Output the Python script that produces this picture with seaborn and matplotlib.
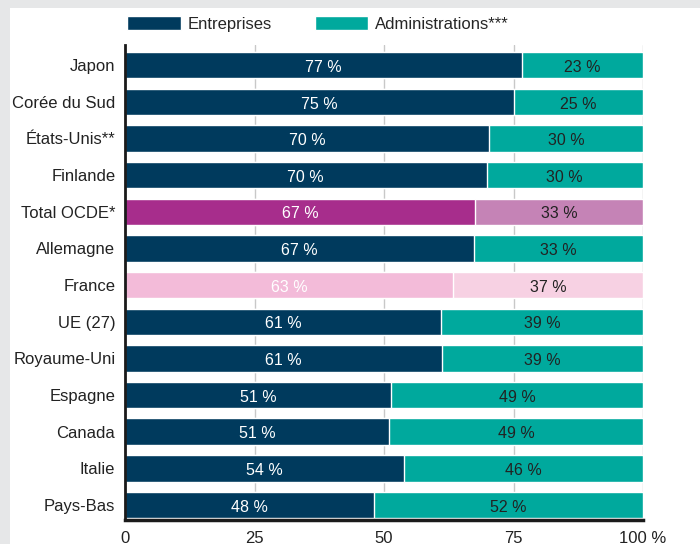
import matplotlib
matplotlib.use("Agg")
import matplotlib.pyplot as plt
import seaborn as sns
import pandas as pd
from matplotlib.patches import Rectangle, Patch
from matplotlib import font_manager

countries = ["Japon", "Corée du Sud", "États-Unis**", "Finlande", "Total OCDE*", "Allemagne",
             "France", "UE (27)", "Royaume-Uni", "Espagne", "Canada", "Italie", "Pays-Bas"]
entreprises = [76.6, 75.0, 70.3, 69.8, 67.5, 67.3, 63.3, 61.0, 61.2, 51.4, 51.0, 53.8, 48.0]
ent_labels = [77, 75, 70, 70, 67, 67, 63, 61, 61, 51, 51, 54, 48]
adm_labels = [23, 25, 30, 30, 33, 33, 37, 39, 39, 49, 49, 46, 52]
total = [100] * len(countries)
xticks = [0, 25, 50, 75, 100]
xticklabels = ["0", "25", "50", "75", "100 %"]

NAVY = "#003a5d"
TEAL = "#00a99d"
ent_colors = {c: NAVY for c in countries}
adm_colors = {c: TEAL for c in countries}
ent_colors["Total OCDE*"] = "#a72d8c"
adm_colors["Total OCDE*"] = "#c583b6"
ent_colors["France"] = "#f3bbd9"
adm_colors["France"] = "#f7d1e3"

df = pd.DataFrame({"pays": countries, "ent": entreprises, "total": total})

names = {f.name for f in font_manager.fontManager.ttflist}
fam = "Liberation Sans Narrow" if "Liberation Sans Narrow" in names else "Liberation Sans"

sns.set_theme(style="white")
plt.rcParams["font.family"] = [fam, "DejaVu Sans"]

fig = plt.figure(figsize=(7, 5.44), dpi=100, facecolor="#e6e7e8")
fig.patches.append(Rectangle((10 / 700, 0), 1, 1 - 8 / 544, transform=fig.transFigure,
                             facecolor="white", edgecolor="none", zorder=-10))
ax = fig.add_axes([125 / 700, 1 - 520 / 544, (643 - 125) / 700, (520 - 45) / 544])
ax.set_facecolor("none")

sns.barplot(data=df, y="pays", x="total", hue="pays", palette=adm_colors, orient="h",
            width=0.72, legend=False, ax=ax, saturation=1, zorder=2)
sns.barplot(data=df, y="pays", x="ent", hue="pays", palette=ent_colors, orient="h",
            width=0.72, legend=False, ax=ax, saturation=1, zorder=3)

for i, c in enumerate(countries):
    e = entreprises[i]
    ax.text(e / 2, i + 0.06, f"{ent_labels[i]} %", ha="center", va="center", color="white",
            fontsize=11.5, zorder=5)
    ax.text(e + (100 - e) / 2, i + 0.06, f"{adm_labels[i]} %", ha="center", va="center",
            color="#222222", fontsize=11.5, zorder=5)

ax.set_xlim(0, 100)
ax.set_ylim(12.41, -0.55)
ax.set_xticks(xticks)
ax.set_xticklabels(xticklabels, fontsize=12, color="#222222")
ax.tick_params(axis="y", labelsize=12, labelcolor="#222222", length=0, pad=7)
ax.tick_params(axis="x", length=0, pad=8)
ax.set_xlabel("")
ax.set_ylabel("")
for x in xticks[1:]:
    ax.axvline(x, color="#c8c8c8", lw=1, zorder=1)
for s in ["top", "right"]:
    ax.spines[s].set_visible(False)
ax.spines["left"].set_color("#1a1a1a")
ax.spines["left"].set_linewidth(2)
ax.spines["bottom"].set_color("#1a1a1a")
ax.spines["bottom"].set_linewidth(2.5)
ax.spines["left"].set_zorder(6)
ax.spines["bottom"].set_zorder(6)

handles = [Patch(facecolor=NAVY, label="Entreprises"),
           Patch(facecolor=TEAL, label="Administrations***")]
fig.legend(handles=handles, loc="center", bbox_to_anchor=(318 / 700, 1 - 24 / 544), ncol=2,
           frameon=False, fontsize=12, handlelength=3.2, handleheight=0.9,
           columnspacing=2.6, handletextpad=0.4)

fig.savefig("out.png", dpi=100, facecolor=fig.get_facecolor())
